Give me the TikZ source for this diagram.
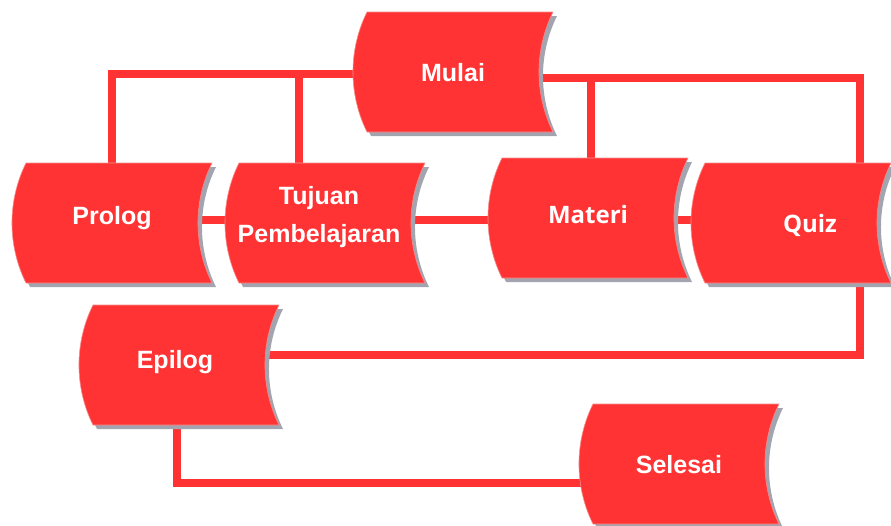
\documentclass[tikz,border=0pt]{standalone}
\usepackage{fontspec}
\setmainfont{Liberation Sans}
\newfontfamily\opensans{Open Sans}
\definecolor{docred}{HTML}{FF3333}
\definecolor{docedge}{HTML}{F58C8C}
\definecolor{docshadow}{HTML}{A2A5B0}
\pgfdeclarelayer{links}
\pgfdeclarelayer{shapes}
\pgfsetlayers{links,shapes,main}
\tikzset{
  docbox/.style={minimum width=200pt, minimum height=120pt, inner sep=0pt,
    text=white, font=\bfseries\fontsize{25}{38}\selectfont, align=center,
    text height=18pt, text depth=#1},
  docbox/.default=0pt,
  link/.style={draw=docred, line width=7.5pt},
}
\begin{document}
\begin{tikzpicture}[x=1pt,y=-1pt]
  \useasboundingbox (0,0) rectangle (891,525);
  \def \DocNodes {
    mulai/453/72/0pt/Mulai,
    prolog/112/223/16pt/Prolog,
    tujuan/325/223/0pt/{\raisebox{9.4pt}{\begin{tabular}{@{}c@{}}Tujuan\\Pembelajaran\end{tabular}}\hspace*{12pt}},
    materi/588/218/8pt/{\opensans\fontsize{24}{30}\selectfont Materi},
    quiz/791/223/0pt/{\opensans\fontsize{24}{30}\selectfont\hspace*{38pt}Quiz},
    epilog/179/365/12pt/Epilog\hspace*{8pt},
    selesai/679/464/0pt/Selesai}

  \foreach \id / \x / \y / \lift / \txt in \DocNodes {
    \node[docbox=\lift] (\id) at (\x, \y) {\txt};
    \begin{pgfonlayer}{shapes}
      \fill[docshadow, shift={(\x+4,\y+4)}] (-86,-60) -- (100,-60)
        .. controls (81.3,-22.3) and (81.3,22.3) .. (100,60) -- (-86,60)
        .. controls (-104.7,22.3) and (-104.7,-22.3) .. (-86,-60) -- cycle;
      \filldraw[fill=docred, draw=docedge, line width=0.6pt, shift={(\x,\y)}]
        (-86,-60) -- (100,-60)
        .. controls (81.3,-22.3) and (81.3,22.3) .. (100,60) -- (-86,60)
        .. controls (-104.7,22.3) and (-104.7,-22.3) .. (-86,-60) -- cycle;
    \end{pgfonlayer}
  }

  \begin{pgfonlayer}{links}
    \path[link] ([yshift=-2pt]mulai.center) -| (prolog.north);
    \path[link] ([yshift=-2pt]mulai.center) -| ([xshift=-26pt]tujuan.north);
    \path[link] ([yshift=-6pt]mulai.center) -| ([xshift=3pt]materi.north);
    \path[link] ([yshift=-6pt]mulai.center) -| ([xshift=69pt]quiz.north)
      -- ([xshift=69pt]quiz.south) |- ([yshift=10pt]epilog.center);
    \path[link] ([yshift=3pt]prolog.center) -- ([yshift=3pt]quiz.center);
    \path[link] ([xshift=-2pt]epilog.center) |- ([yshift=-19pt]selesai.center);
  \end{pgfonlayer}
\end{tikzpicture}
\end{document}
